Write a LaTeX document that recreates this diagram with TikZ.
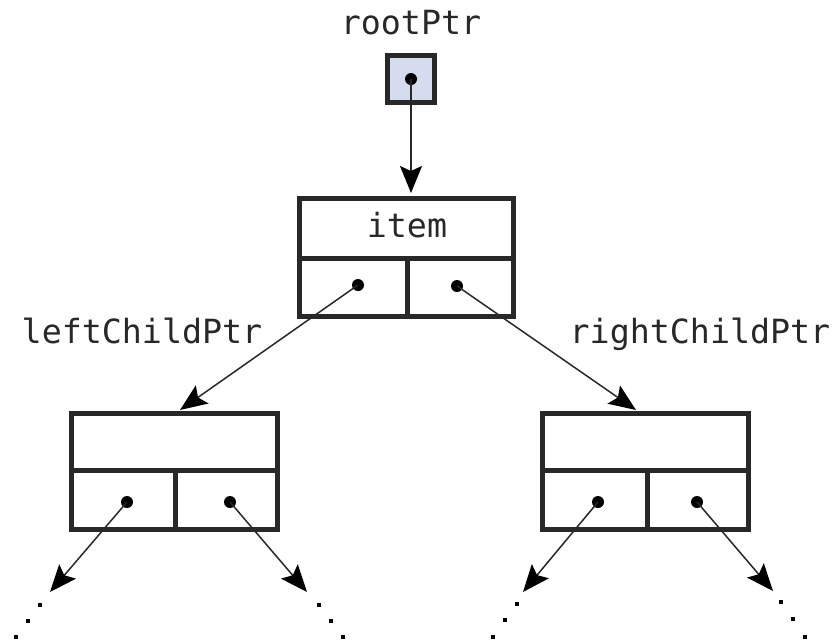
\documentclass[tikz,border=0pt]{standalone}
\usepackage{fontspec}
\setmonofont{DejaVu Sans Mono}
\usetikzlibrary{arrows.meta}
\definecolor{ptrfill}{RGB}{212,220,238}
\definecolor{inkgray}{RGB}{40,40,40}
\tikzset{
  nodebox/.style={draw=inkgray, line width=5pt, rectangle, inner sep=0pt,
                  minimum width=206pt, minimum height=116pt},
  rootbox/.style={draw=inkgray, line width=5pt, fill=ptrfill, rectangle, inner sep=0pt,
                  minimum size=47pt},
  divider/.style={draw=inkgray, line width=5pt},
  ptrdot/.style={circle, fill=black, inner sep=0pt, minimum size=12pt},
  ptr/.style={draw=inkgray, line width=1.5pt,
              -{Stealth[length=27pt, width=22pt, inset=5pt, color=black]}},
  label/.style={font=\ttfamily\fontsize{33.3}{40}\selectfont, text=inkgray, anchor=base, inner sep=0pt},
  ellip/.style={rectangle, fill=black, inner sep=0pt, minimum size=4.5pt}
}
\begin{document}
\begin{tikzpicture}[x=1pt, y=-1pt]
  \useasboundingbox (0,0) rectangle (836,641);

  % external pointer to the root
  \node[label] (rootlbl) at (411,34) {rootPtr};
  \node[rootbox] (rootptr) at (411,79) {};
  \node[ptrdot] (rootdot) at (411,79) {};

  % root node: item on top, two child pointers below
  \node[nodebox, minimum width=214pt, minimum height=118pt] (root) at (406,257) {};
  \draw[divider] (root.west |- 0,258) -- (root.east |- 0,258);
  \draw[divider] (407,258) -- (root.south -| 407,0);
  \node[label] (itemlbl) at (407,237) {item};
  \node[ptrdot] (rootL) at (358,285) {};
  \node[ptrdot] (rootR) at (457,286) {};

  % left child
  \node[nodebox] (lc) at (174,471) {};
  \draw[divider] (lc.west |- 0,470) -- (lc.east |- 0,470);
  \draw[divider] (175,470) -- (lc.south -| 175,0);
  \node[ptrdot] (lcL) at (127,502) {};
  \node[ptrdot] (lcR) at (230,502) {};

  % right child
  \node[nodebox] (rc) at (645,471) {};
  \draw[divider] (rc.west |- 0,470) -- (rc.east |- 0,470);
  \draw[divider] (647,470) -- (rc.south -| 647,0);
  \node[ptrdot] (rcL) at (598,502) {};
  \node[ptrdot] (rcR) at (697,502) {};

  % pointer labels
  \node[label] (leftlbl) at (142,343) {leftChildPtr};
  \node[label] (rightlbl) at (700,343) {rightChildPtr};

  % arrow targets
  \coordinate (rootin) at (411,193);
  \coordinate (lcin) at (180,410);
  \coordinate (rcin) at (636,410);
  \coordinate (lcLend) at (50,592);
  \coordinate (lcRend) at (307,592);
  \coordinate (rcLend) at (523,592);
  \coordinate (rcRend) at (773,591);

  % pointers
  \draw[ptr] (rootdot.center) -- (rootin);
  \draw[ptr] (rootL.center) -- (lcin);
  \draw[ptr] (rootR.center) -- (rcin);
  \draw[ptr] (lcL.center) -- (lcLend);
  \draw[ptr] (lcR.center) -- (lcRend);
  \draw[ptr] (rcL.center) -- (rcLend);
  \draw[ptr] (rcR.center) -- (rcRend);

  % continuation dots
  \foreach \x/\y [count=\i] in {40/605, 28/621, 16/637,
                                319/605, 331/621, 343/637,
                                517/604, 505/620, 493/637,
                                781/602, 793/619, 805/637}
    \node[ellip] (more\i) at (\x,\y) {};
\end{tikzpicture}
\end{document}
